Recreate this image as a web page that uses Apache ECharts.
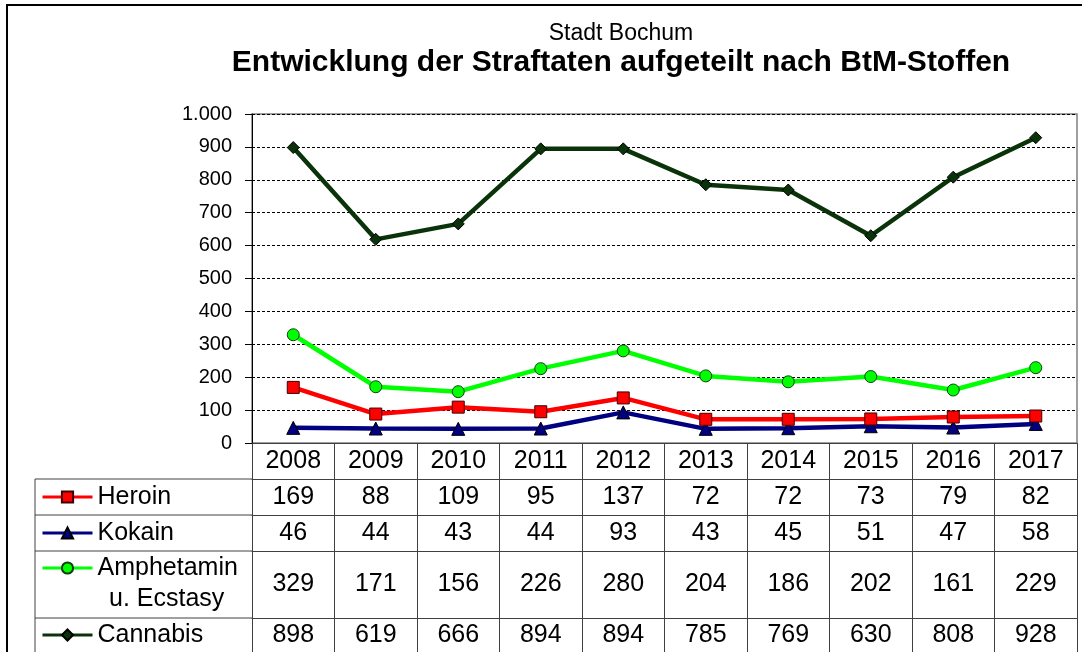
<!DOCTYPE html>
<html>
<head>
<meta charset="utf-8">
<script src="https://cdn.jsdelivr.net/npm/echarts@6/dist/echarts.min.js"></script>
<style>
    html, body {margin: 0; padding: 0; background: #fff;}
    #chart {width: 1082px; height: 652px;}
</style>
</head>
<body>
<div id="chart"></div>
<script>
// Daten
let years = ['2008', '2009', '2010', '2011', '2012', '2013', '2014', '2015', '2016', '2017'];
let heroin = [169, 88, 109, 95, 137, 72, 72, 73, 79, 82];
let kokain = [46, 44, 43, 44, 93, 43, 45, 51, 47, 58];
let amphetamin = [329, 171, 156, 226, 280, 204, 186, 202, 161, 229];
let cannabis = [898, 619, 666, 894, 894, 785, 769, 630, 808, 928];
let yTicks = [0, 100, 200, 300, 400, 500, 600, 700, 800, 900, 1000];

let font = 'Liberation Sans, Arial, sans-serif';
let lineCol = '#404040';

// eine Tabellenzeile als zusaetzliche x-Achse
function rowAxis(values, offset, rowH, margin) {
    return {
        type: 'category', gridIndex: 0, position: 'bottom', offset: offset,
        data: years,
        axisLine: {show: true, lineStyle: {color: lineCol, width: 1}},
        axisTick: {show: true, length: rowH, interval: 0, lineStyle: {color: lineCol, width: 1}},
        axisLabel: {
            interval: 0, margin: margin, color: '#000', fontSize: 25, lineHeight: 26, fontFamily: font,
            formatter: function (v, i) {
                return values ? String(values[i]) : v;
            }
        },
        splitLine: {show: false}
    };
}

function rowLegend(name, label, top) {
    return {
        data: [name], left: 41, top: top, padding: 0, itemWidth: 50, itemHeight: 14, itemGap: 0,
        selectedMode: false,
        textStyle: {color: '#000', fontSize: 25, fontFamily: font, lineHeight: 26},
        lineStyle: {width: 3},
        formatter: function () {
            return label;
        }
    };
}

let chart = echarts.init(document.getElementById('chart'));
chart.setOption({
    animation: false,
    backgroundColor: '#fff',
    textStyle: {fontFamily: font},
    title: [
        {text: 'Stadt Bochum', left: 616, top: 17, textAlign: 'center',
            textStyle: {fontSize: 23, fontWeight: 'normal', color: '#000', fontFamily: font}},
        {text: 'Entwicklung der Straftaten aufgeteilt nach BtM-Stoffen', left: 616, top: 43, textAlign: 'center',
            textStyle: {fontSize: 30, fontWeight: 'bold', color: '#000', fontFamily: font}}
    ],
    legend: [
        rowLegend('Heroin', 'Heroin', 484),
        rowLegend('Kokain', 'Kokain', 520),
        rowLegend('Amphetamin u. Ecstasy', 'Amphetamin', 555),
        rowLegend('Cannabis', 'Cannabis', 622)
    ],
    grid: {left: 252, top: 114, right: 5, bottom: 209, show: true, borderColor: '#808080', borderWidth: 1.5,
        backgroundColor: 'transparent'},
    xAxis: [
        rowAxis(null, 0, 36, 5),
        rowAxis(heroin, 36, 36, 5),
        rowAxis(kokain, 72, 36, 5),
        rowAxis(amphetamin, 108, 67, 20),
        rowAxis(cannabis, 175, 40, 4)
    ],
    yAxis: {
        type: 'value', min: yTicks[0], max: yTicks[yTicks.length - 1], interval: 100,
        axisLine: {show: true, lineStyle: {color: '#000', width: 1}},
        axisTick: {show: true, length: 7, lineStyle: {color: '#000'}},
        axisLabel: {
            margin: 20, color: '#000', fontSize: 20, fontFamily: font,
            formatter: function (v) {
                return v >= 1000 ? (v / 1000) + '.' + String(v % 1000).padStart(3, '0') : String(v);
            }
        },
        splitLine: {show: true, lineStyle: {color: '#000', type: [3, 2], width: 1}}
    },
    graphic: [
        {type: 'rect', shape: {x: 7, y: 5, width: 1100, height: 700}, style: {fill: 'none', stroke: '#000', lineWidth: 2}, z: 0},
        {type: 'line', shape: {x1: 35, y1: 479, x2: 252, y2: 479}, style: {stroke: lineCol, lineWidth: 1}},
        {type: 'line', shape: {x1: 35, y1: 515, x2: 252, y2: 515}, style: {stroke: lineCol, lineWidth: 1}},
        {type: 'line', shape: {x1: 35, y1: 551, x2: 252, y2: 551}, style: {stroke: lineCol, lineWidth: 1}},
        {type: 'line', shape: {x1: 35, y1: 618, x2: 252, y2: 618}, style: {stroke: lineCol, lineWidth: 1}},
        {type: 'line', shape: {x1: 35, y1: 479, x2: 35, y2: 660}, style: {stroke: lineCol, lineWidth: 1}},
        {type: 'text', left: 109, top: 587, style: {text: 'u. Ecstasy', fill: '#000', font: '25px ' + font}}
    ],
    series: [
        {
            name: 'Kokain', type: 'line', data: kokain, symbol: 'triangle', symbolSize: 13,
            lineStyle: {color: '#000080', width: 4.5},
            itemStyle: {color: '#000080', borderColor: '#000', borderWidth: 1}
        },
        {
            name: 'Heroin', type: 'line', data: heroin, symbol: 'rect', symbolSize: 12,
            lineStyle: {color: '#ff0000', width: 4.5},
            itemStyle: {color: '#ff0000', borderColor: '#400000', borderWidth: 1}
        },
        {
            name: 'Amphetamin u. Ecstasy', type: 'line', data: amphetamin, symbol: 'circle', symbolSize: 12,
            lineStyle: {color: '#00ff00', width: 4.5},
            itemStyle: {color: '#00ff00', borderColor: '#104010', borderWidth: 1}
        },
        {
            name: 'Cannabis', type: 'line', data: cannabis, symbol: 'diamond', symbolSize: 12,
            lineStyle: {color: '#0a330a', width: 4.5},
            itemStyle: {color: '#0a330a', borderColor: '#000', borderWidth: 1}
        }
    ]
});
</script>
</body>
</html>
